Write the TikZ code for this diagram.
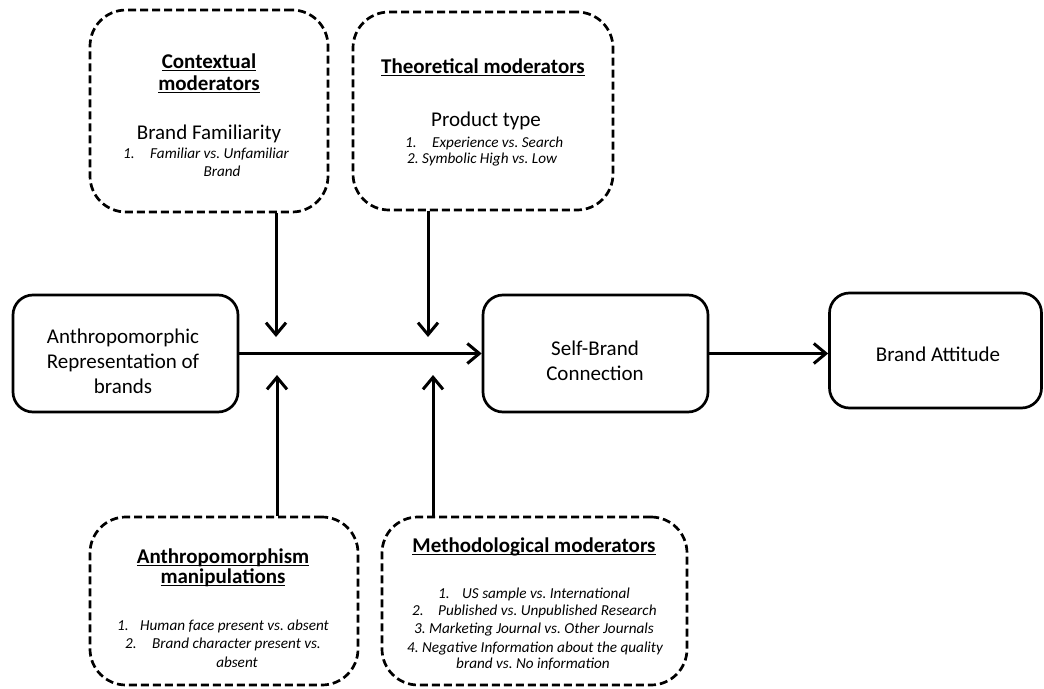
\documentclass[tikz,border=0pt]{standalone}
\usepackage{fontspec}
\setmainfont{Carlito}
\usetikzlibrary{arrows.meta}
\frenchspacing
\newcommand\myul[1]{\setbox0\hbox{#1}\rlap{\rule[-2.8pt]{\wd0}{1.3pt}}\box0}
\tikzset{
  mainbox/.style={draw, line width=2.7pt, rounded corners=20pt, inner sep=0pt},
  modbox/.style={draw, line width=2.7pt, dash pattern=on 8pt off 4pt, rounded corners=36pt, inner sep=0pt},
  arr/.style={line width=3pt, -{Straight Barb[length=12pt,width=20pt,line width=3pt]}},
  big/.style={font=\fontsize{21}{25}\selectfont, inner sep=0pt, anchor=base, text=black},
  hd/.style={font=\fontsize{21}{25}\selectfont\bfseries, inner sep=0pt, anchor=base, text=black},
  sm/.style={font=\fontsize{15.2}{17}\selectfont\itshape, inner sep=0pt, anchor=base, text=black},
  smw/.style={sm, anchor=base west},
  mtext/.style={font=\fontsize{21}{25}\selectfont, align=center, text=black}
}
\begin{document}
\begin{tikzpicture}[x=1pt,y=-1pt]
\useasboundingbox (0,0) rectangle (1044,688);
% main boxes
\node[mainbox, minimum width=225pt, minimum height=117pt] (arb) at (125.5,353.5) {};
\node[mainbox, minimum width=225pt, minimum height=117pt] (sbc) at (595.5,353.5) {};
\node[mainbox, minimum width=212pt, minimum height=115pt] (ba) at (935.5,350.5) {};
\node[mtext] (arbt) at (123,361) {Anthropomorphic\\Representation of\\brands};
\node[mtext] (sbct) at (595,361) {Self-Brand\\Connection};
\node[mtext] (bat) at (938,354) {Brand Attitude};
% moderator boxes
\node[modbox, minimum width=238pt, minimum height=202pt] (ctx) at (209,111) {};
\node[modbox, minimum width=260pt, minimum height=198pt] (theo) at (483,111) {};
\node[modbox, minimum width=268pt, minimum height=168pt] (anth) at (224,601) {};
\node[modbox, minimum width=305pt, minimum height=168pt] (meth) at (534.5,601) {};
% contextual
\node[hd] (c1) at (209,68) {\myul{Contextual}};
\node[hd] (c2) at (209,90) {\myul{moderators}};
\node[big] (c3) at (209,139) {Brand Familiarity};
\node[smw] (c4n) at (123,158) {1.};
\node[smw] (c4) at (150,158) {Familiar vs. Unfamiliar};
\node[sm] (c5) at (222,176) {Brand};
% theoretical
\node[hd] (t1h) at (483,73) {\myul{Theoretical moderators}};
\node[big] (t2) at (486,126) {Product type};
\node[smw] (t3n) at (405,147) {1.};
\node[smw] (t3) at (432,147) {Experience vs. Search};
\node[smw] (t4) at (407,163) {2.~Symbolic High vs. Low};
% anthropomorphism
\node[hd] (a1) at (223,563) {\myul{Anthropomorphism}};
\node[hd] (a2) at (223,583) {\myul{manipulations}};
\node[smw] (a3n) at (117,630) {1.};
\node[smw] (a3) at (140,630) {Human face present vs. absent};
\node[smw] (a4n) at (125,648) {2.};
\node[smw] (a4) at (152,648) {Brand character present vs.};
\node[sm] (a5) at (237,667) {absent};
% methodological
\node[hd] (m1) at (534,552) {\myul{Methodological moderators}};
\node[smw] (m2n) at (438,598) {1.};
\node[smw] (m2) at (462,598) {US sample vs. International};
\node[smw] (m3n) at (412,615) {2.};
\node[smw] (m3) at (438,615) {Published vs. Unpublished Research};
\node[sm] (m4) at (534,633) {3. Marketing Journal vs. Other Journals};
\node[sm] (m5) at (535,652) {4. Negative Information about the quality};
\node[sm] (m6) at (533,668) {brand vs. No information};
% connectors
\coordinate (p1) at (276,337);
\coordinate (p2) at (428,337);
\coordinate (q1) at (277,375);
\coordinate (q2) at (433,375);
\draw[arr] (arb.east) -- (sbc.west);
\draw[arr] (sbc.east) -- (sbc.east -| ba.west);
\draw[arr] (ctx.south -| p1) -- (p1);
\draw[arr] (theo.south -| p2) -- (p2);
\draw[arr] (anth.north -| q1) -- (q1);
\draw[arr] (meth.north -| q2) -- (q2);
\end{tikzpicture}
\end{document}
